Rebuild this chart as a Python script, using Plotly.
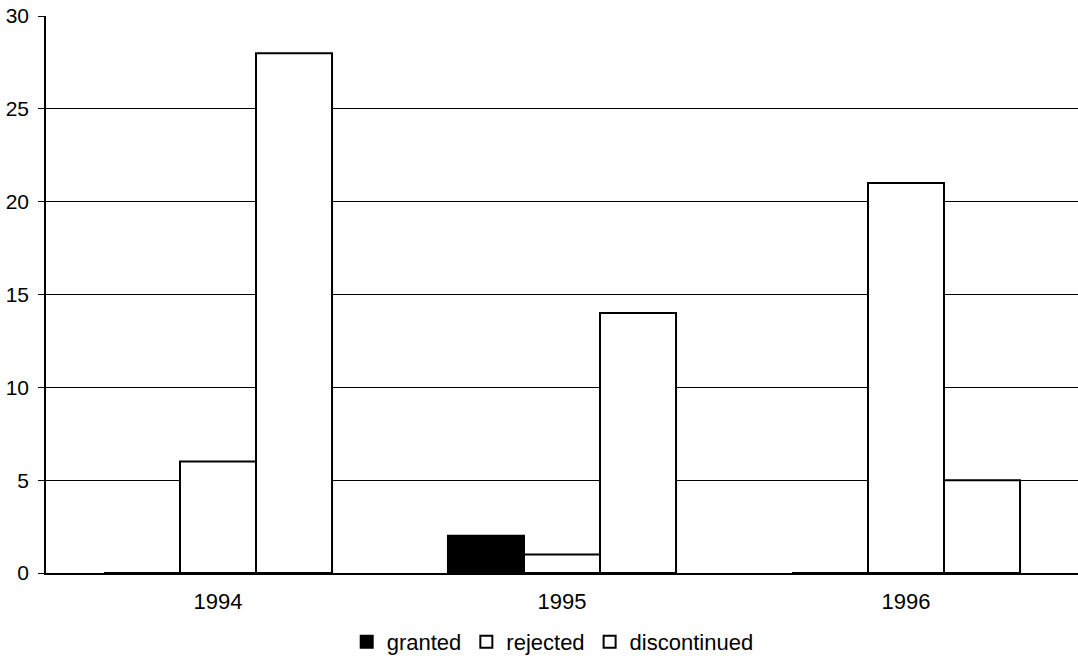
import plotly.graph_objects as go

years = ["1994", "1995", "1996"]
granted = [0, 2, 0]
rejected = [6, 1, 21]
discontinued = [28, 14, 5]

fig = go.Figure()
fig.add_trace(go.Bar(name="granted", x=years, y=granted,
                     marker=dict(color="black", line=dict(color="black", width=2))))
fig.add_trace(go.Bar(name="rejected", x=years, y=rejected,
                     marker=dict(color="white", line=dict(color="black", width=2))))
fig.add_trace(go.Bar(name="discontinued", x=years, y=discontinued,
                     marker=dict(color="white", line=dict(color="black", width=2))))

fig.update_layout(
    width=1078, height=666,
    margin=dict(l=46, r=0, t=16, b=93),
    paper_bgcolor="white", plot_bgcolor="white",
    barmode="group", bargap=0.337, bargroupgap=0,
    font=dict(family="Liberation Sans, Arial, sans-serif", size=21, color="black"),
    showlegend=True,
    legend=dict(orientation="h", x=0.491, xanchor="center", y=-0.124, yanchor="middle",
                font=dict(size=22), itemwidth=30, tracegroupgap=0,
                bgcolor="rgba(0,0,0,0)"),
    xaxis=dict(showline=True, linecolor="black", linewidth=1.5, ticks="",
               tickfont=dict(size=22), ticklabelstandoff=8, mirror=False),
    yaxis=dict(range=[0, 30], dtick=5, showgrid=True, gridcolor="black", gridwidth=1,
               showline=True, linecolor="black", linewidth=1.5,
               ticks="outside", ticklen=6, tickcolor="black",
               tickfont=dict(size=21), ticklabelstandoff=5, zeroline=False),
)

fig.write_html("out.html")
